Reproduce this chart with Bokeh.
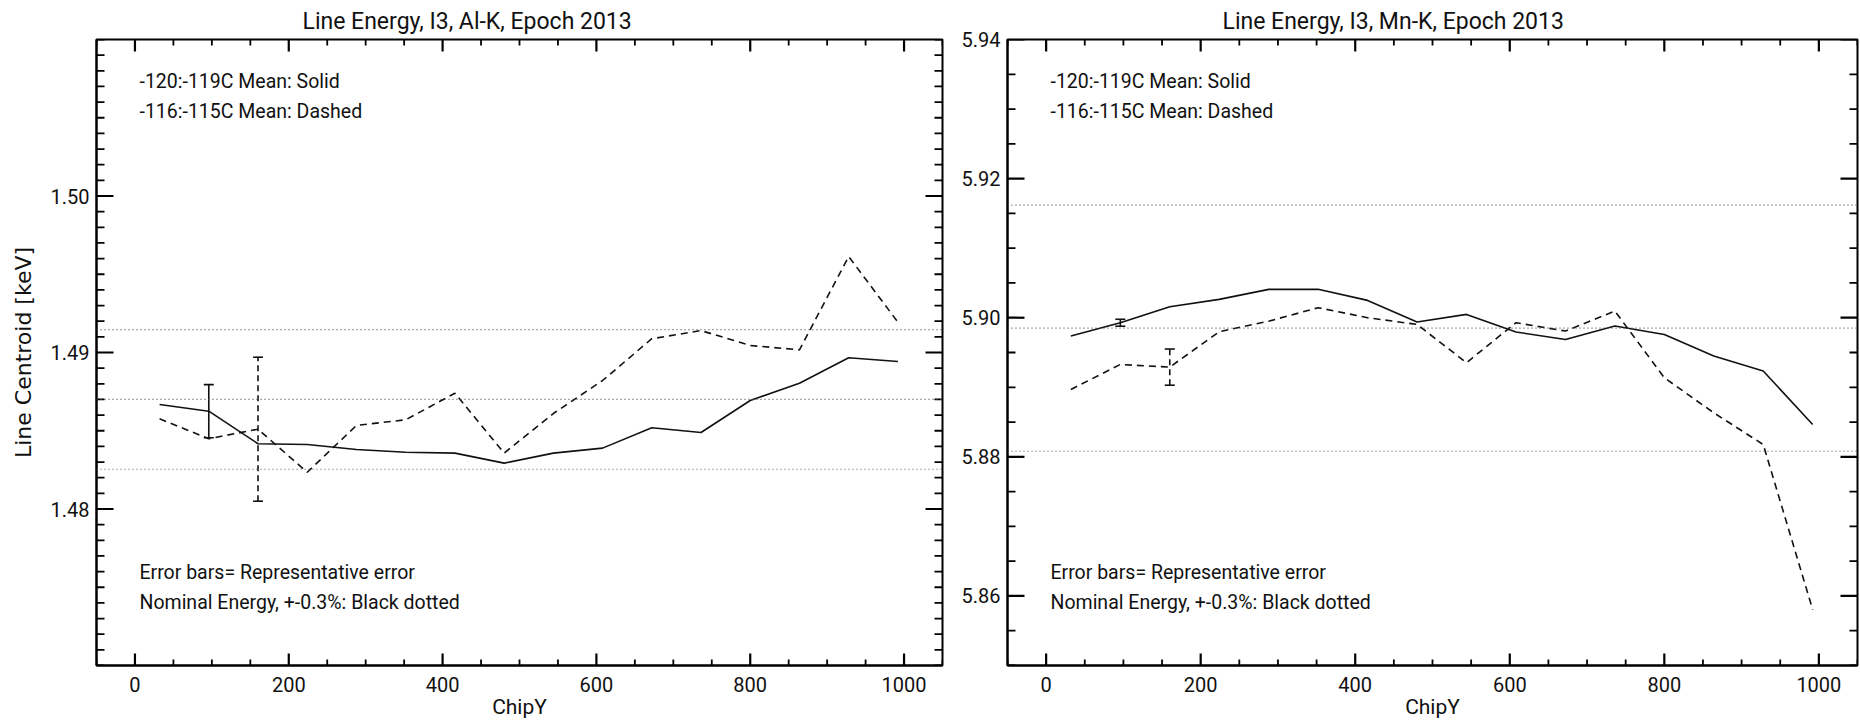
import numpy as np
from bokeh.plotting import figure
from bokeh.models import (FixedTicker, Span, Whisker, TeeHead, ColumnDataSource, Label,
                          Range1d, PrintfTickFormatter)
from bokeh.layouts import row
from bokeh.embed import file_html
from bokeh.resources import INLINE

# ---------------- data ----------------
chipy = [32, 96, 160, 224, 288, 352, 416, 480, 544, 608, 672, 736, 800, 864, 928, 992]

al_solid = [1.48668, 1.48625, 1.48417, 1.48412, 1.48380, 1.48363, 1.48357, 1.48293,
            1.48357, 1.48389, 1.48519, 1.48489, 1.48693, 1.48804, 1.48966, 1.48942]
al_dashed = [1.48576, 1.48449, 1.48510, 1.48235, 1.48534, 1.48570, 1.48740, 1.48357,
             1.48610, 1.48821, 1.49088, 1.49140, 1.49045, 1.49017, 1.49613, 1.49194]

mn_solid = [5.89737, 5.89928, 5.90158, 5.90264, 5.90408, 5.90408, 5.90249, 5.89938,
            5.90048, 5.89794, 5.89688, 5.89880, 5.89760, 5.89449, 5.89233, 5.88465]
mn_dashed = [5.88969, 5.89328, 5.89290, 5.89799, 5.89950, 5.90144, 5.90000, 5.89904,
             5.89353, 5.89928, 5.89808, 5.90096, 5.89137, 5.88633, 5.88177, 5.85803]

# representative errors: (index of point, half-size)
al_err_solid = (1, 0.0017)
al_err_dashed = (2, 0.0046)
mn_err_solid = (1, 0.0005)
mn_err_dashed = (2, 0.0026)

al_nominal = 1.487
mn_nominal = 5.8985
tol_frac = 0.003

x_ticks = [0, 200, 400, 600, 800, 1000]
al_y_ticks = [1.48, 1.49, 1.50]
mn_y_ticks = [5.86, 5.88, 5.90, 5.92, 5.94]

titles = ["Line Energy, I3, Al-K, Epoch 2013", "Line Energy, I3, Mn-K, Epoch 2013"]
legend_top = ["-120:-119C Mean: Solid", "-116:-115C Mean: Dashed"]
legend_bottom = ["Error bars= Representative error", "Nominal Energy, +-0.3%: Black dotted"]
x_label = "ChipY"
y_label = "Line Centroid [keV]"

FONT = "Roboto"
INK = "#111111"
H = 724
TOP = 38
BOTTOM = 59
XR = (-50, 1050)


def make_panel(title, yr, y_major, y_minor_step, solid, dashed, err_s, err_d, nominal,
               ylabel, width, mb_left, mb_right, title_off):
    p = figure(width=width, height=H, output_backend="svg", toolbar_location=None,
               x_range=Range1d(*XR), y_range=Range1d(*yr),
               min_border_left=mb_left, min_border_right=mb_right,
               min_border_top=TOP, min_border_bottom=BOTTOM)
    p.background_fill_color = "white"
    p.border_fill_color = "white"
    p.outline_line_color = "black"
    p.outline_line_width = 2
    p.xgrid.visible = False
    p.ygrid.visible = False

    p.title.text = title
    p.title.align = "left"
    p.title.offset = title_off
    p.title.text_font = FONT
    p.title.text_font_size = "23px"
    p.title.text_font_style = "normal"
    p.title.text_color = INK
    p.title.standoff = 10

    x_minor = [float(v) for v in np.arange(XR[0], XR[1] + 1, 50)]
    y_minor = [round(float(v), 4) for v in np.arange(yr[0], yr[1] + 1e-9, y_minor_step)]
    xt = FixedTicker(ticks=x_ticks, minor_ticks=x_minor)
    yt = FixedTicker(ticks=y_major, minor_ticks=y_minor)

    xa = p.xaxis[0]
    ya = p.yaxis[0]
    xa.ticker = xt
    ya.ticker = yt
    ya.formatter = PrintfTickFormatter(format="%.2f")
    for ax in (xa, ya):
        ax.major_tick_in = 0
        ax.minor_tick_in = 0
        ax.major_tick_out = 0
        ax.minor_tick_out = 0
        ax.major_tick_line_color = None
        ax.minor_tick_line_color = None
        ax.axis_line_color = "black"
        ax.axis_line_width = 2
        ax.major_label_text_font = FONT
        ax.major_label_text_font_size = "20px"
        ax.major_label_text_color = INK
    xa.major_label_standoff = 11
    ya.major_label_standoff = 7
    xa.axis_label = x_label
    xa.axis_label_standoff = 0
    xa.axis_label_text_font = FONT
    xa.axis_label_text_font_size = "21px"
    xa.axis_label_text_font_style = "normal"
    xa.axis_label_text_color = INK
    if ylabel:
        ya.axis_label = ylabel
        ya.axis_label_text_font = "DejaVu Sans"
        ya.axis_label_text_font_size = "22px"
        ya.axis_label_text_font_style = "normal"
        ya.axis_label_text_color = INK
        ya.axis_label_standoff = 12

    # inward ticks on all four sides (IDL style), drawn as thin filled quads;
    # tick lengths/thickness in pixels converted to data units
    fw = width - mb_left - mb_right
    fh = H - TOP - BOTTOM
    dy = (yr[1] - yr[0]) / fh
    dx = (XR[1] - XR[0]) / fw
    xmin = [t for t in x_minor if t not in x_ticks]
    ymin = [t for t in y_minor if all(abs(t - m) > 1e-9 for m in y_major)]
    for ticks, ln, th in ((x_ticks, 12, 2.2), (xmin, 6, 1.8)):
        t = np.array(ticks, dtype=float)
        n = len(t)
        for edge, sgn in ((yr[0], 1), (yr[1], -1)):
            y_a = np.full(n, edge)
            y_b = np.full(n, edge + sgn * ln * dy)
            p.quad(left=t - th / 2 * dx, right=t + th / 2 * dx,
                   bottom=np.minimum(y_a, y_b), top=np.maximum(y_a, y_b),
                   fill_color="black", line_color=None)
    for ticks, ln, th in ((y_major, 17, 2.2), (ymin, 8, 1.8)):
        t = np.array(ticks, dtype=float)
        n = len(t)
        for edge, sgn in ((XR[0], 1), (XR[1], -1)):
            x_a = np.full(n, edge)
            x_b = np.full(n, edge + sgn * ln * dx)
            p.quad(left=np.minimum(x_a, x_b), right=np.maximum(x_a, x_b),
                   bottom=t - th / 2 * dy, top=t + th / 2 * dy,
                   fill_color="black", line_color=None)

    # nominal energy and +-0.3%
    for v in (nominal * (1 - tol_frac), nominal, nominal * (1 + tol_frac)):
        p.add_layout(Span(location=v, dimension="width", line_color="#555555",
                          line_width=1.2, line_dash="1 3"))

    p.line(chipy, solid, line_color=INK, line_width=1.6)
    p.line(chipy, dashed, line_color=INK, line_width=1.6, line_dash="7 5")

    # representative error bars
    for (idx, e), series, dash in ((err_s, solid, "solid"), (err_d, dashed, "6 4")):
        src = ColumnDataSource(dict(x=[chipy[idx]], up=[series[idx] + e],
                                    lo=[series[idx] - e]))
        w = Whisker(base="x", upper="up", lower="lo", source=src, dimension="height",
                    line_color=INK, line_width=1.6, line_dash=dash,
                    upper_head=TeeHead(size=10, line_color=INK, line_width=1.6),
                    lower_head=TeeHead(size=10, line_color=INK, line_width=1.6))
        p.add_layout(w)

    # annotation texts (screen units relative to frame bottom-left)
    for txt, y in ((legend_top[0], fh - 43), (legend_top[1], fh - 73),
                   (legend_bottom[0], 93), (legend_bottom[1], 63)):
        p.add_layout(Label(x=43, y=y, x_units="screen", y_units="screen", text=txt,
                           text_font=FONT, text_font_size="19.5px", text_color=INK,
                           text_baseline="middle", text_align="left"))
    return p


p1 = make_panel(titles[0], (1.47, 1.51), al_y_ticks, 0.001, al_solid, al_dashed,
                al_err_solid, al_err_dashed, al_nominal, y_label,
                950, 96, 8, 206)
p2 = make_panel(titles[1], (5.85, 5.94), mn_y_ticks, 0.005, mn_solid, mn_dashed,
                mn_err_solid, mn_err_dashed, mn_nominal, None,
                910, 57, 3, 215)

layout = row(p1, p2)
open("out.html", "w").write(file_html(layout, INLINE))
